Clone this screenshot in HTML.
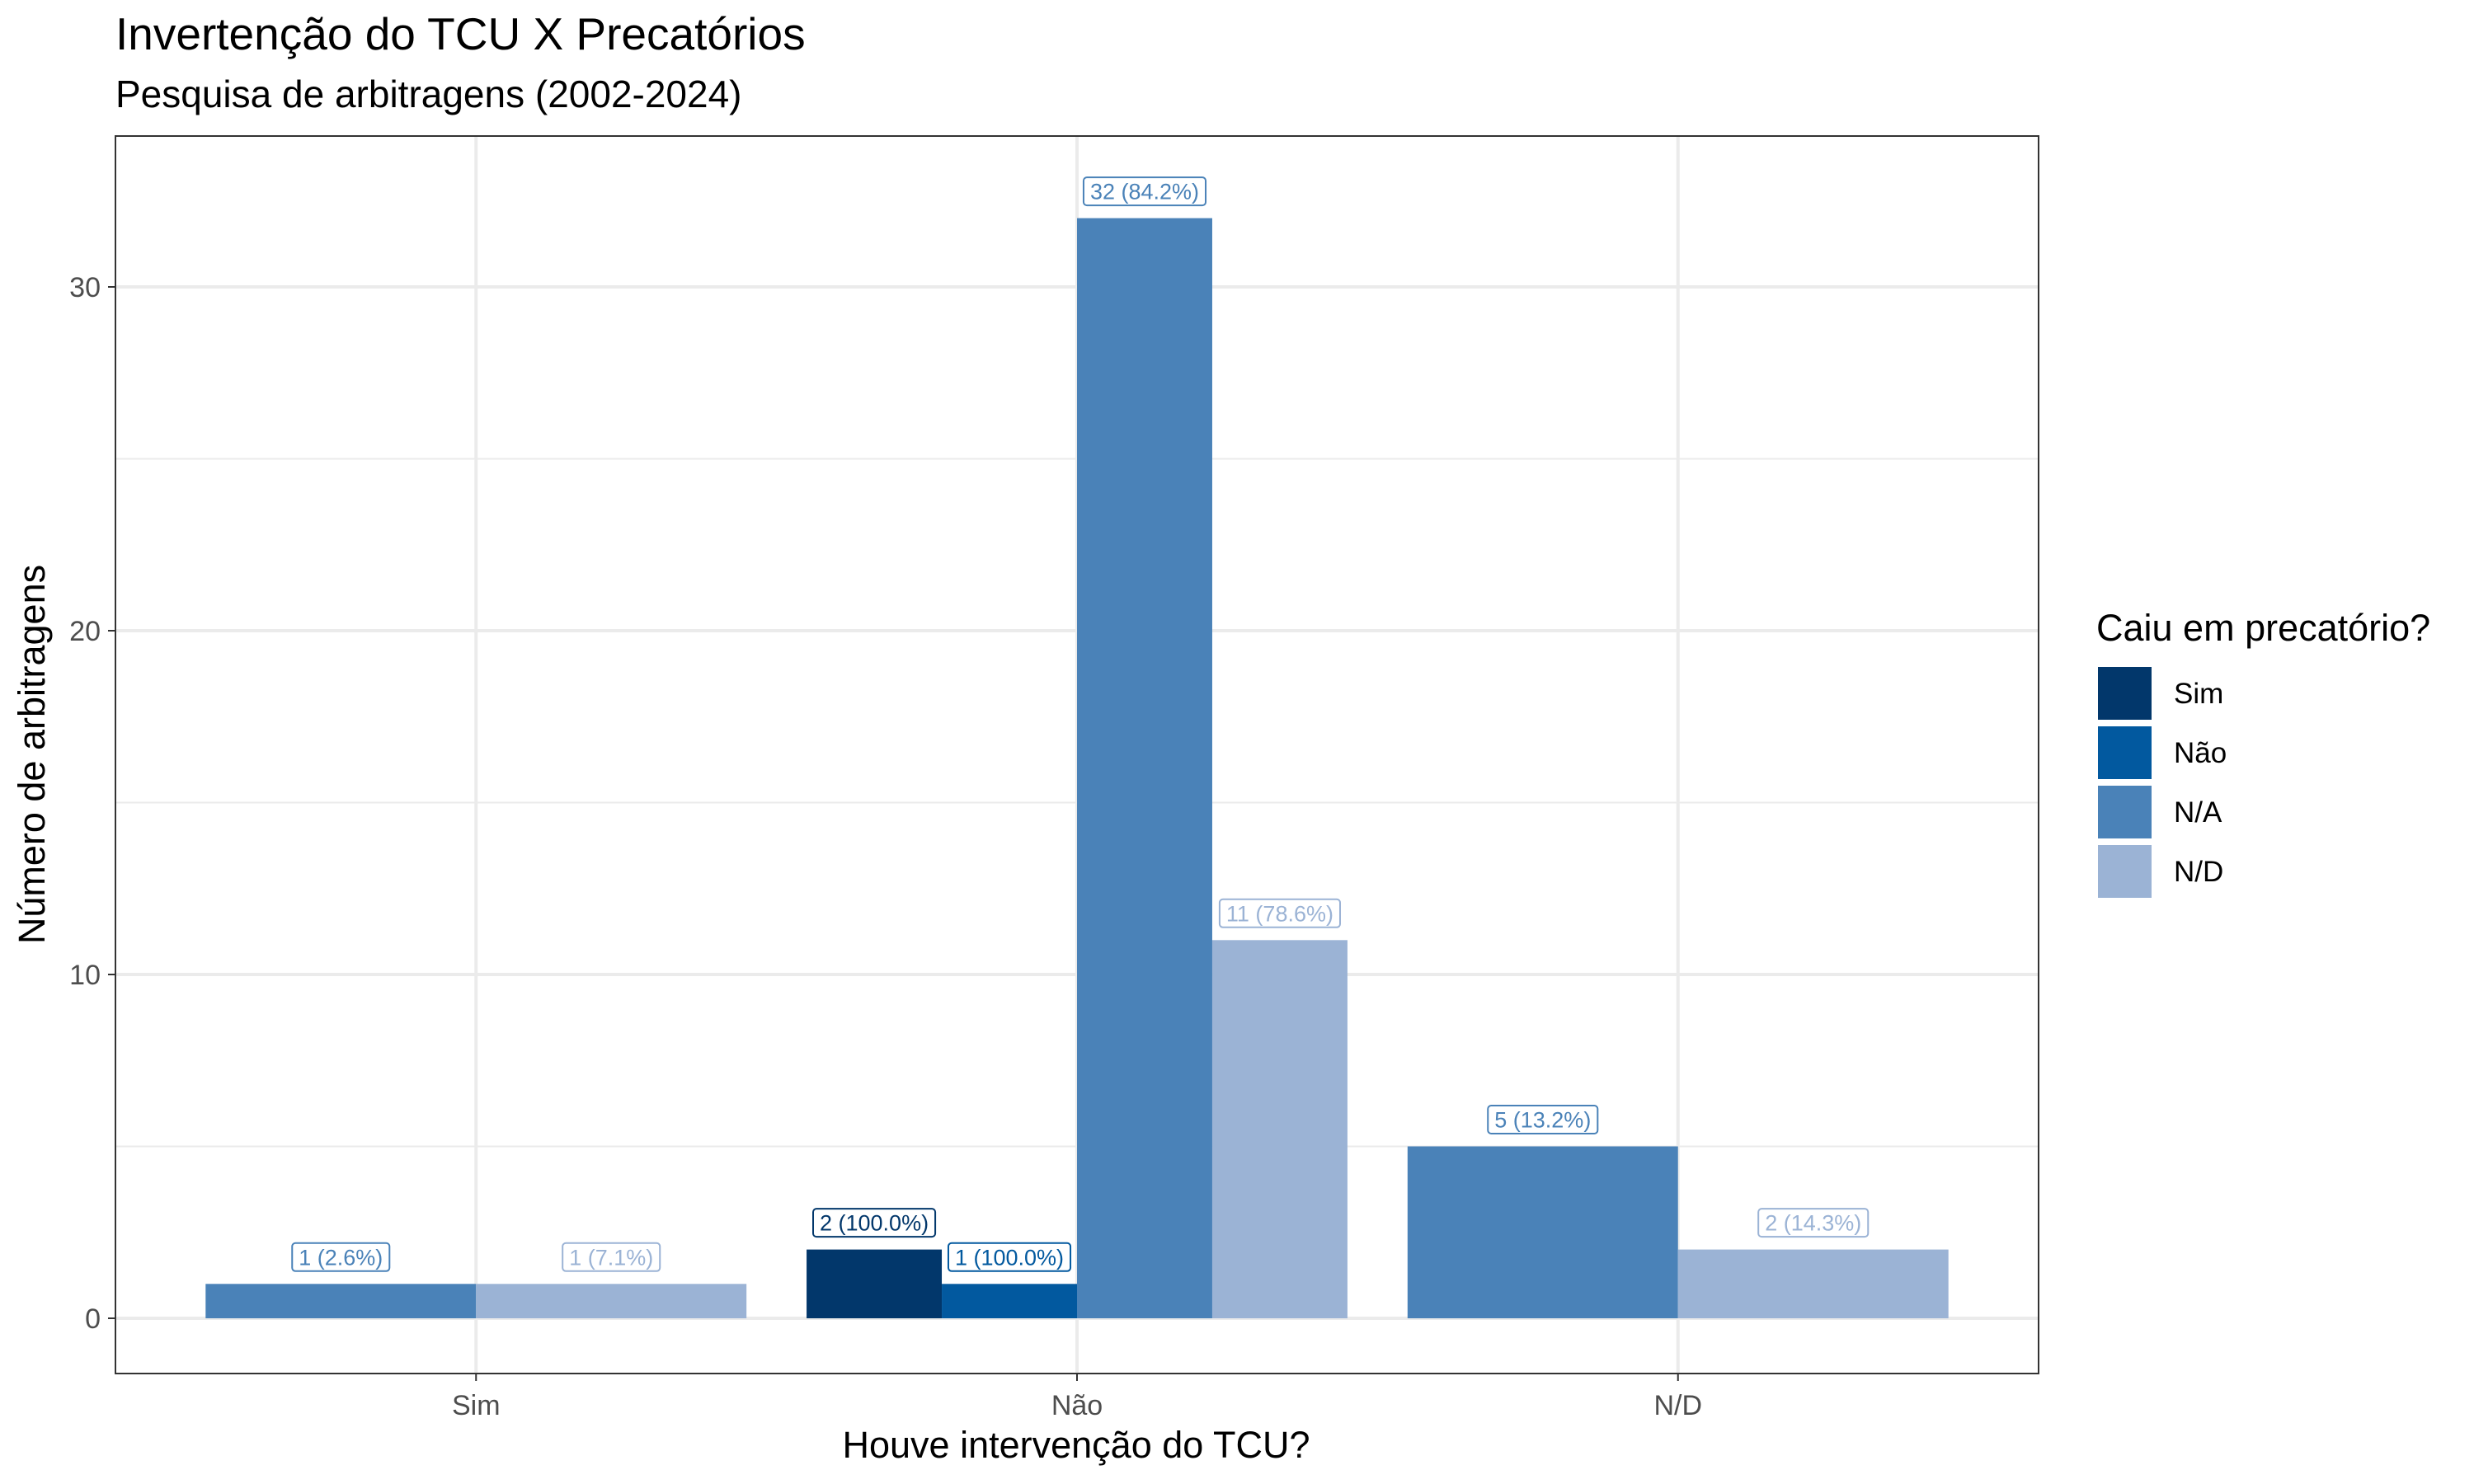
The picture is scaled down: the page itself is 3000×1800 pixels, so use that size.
<!DOCTYPE html>
<html><head><meta charset="utf-8"><style>
html,body{margin:0;padding:0;background:#fff;}
svg{display:block;font-family:"Liberation Sans",Arial,sans-serif;}
</style></head><body>
<svg id="chart" width="3000" height="1800" viewBox="0 0 3000 1800">
<rect width="3000" height="1800" fill="#fff"/>
<text x="140" y="60" font-size="55" fill="#000">Invertenção do TCU X Precatórios</text>
<text x="140" y="130" font-size="46" fill="#000">Pesquisa de arbitragens (2002-2024)</text>
<g id="grid"></g>
<g id="bars"></g>
<g id="labels"></g>
<rect x="140" y="165" width="2332" height="1501" fill="none" stroke="#333" stroke-width="2"/>
<g id="axes"></g>
<text x="1305" y="1768" font-size="45" text-anchor="middle" fill="#000">Houve intervenção do TCU?</text>
<text transform="translate(54,915) rotate(-90)" font-size="45" text-anchor="middle" fill="#000">Número de arbitragens</text>
<g id="legend"></g>
</svg>
<script>
const categories = ["Sim", "Não", "N/D"];
const groups = ["Sim", "Não", "N/A", "N/D"];
const colors = ["#02376B", "#02599F", "#4A82B8", "#9BB3D5"];
// bars per category: [groupIndex, value, label]
const barsSim = [[2, 1, "1 (2.6%)"], [3, 1, "1 (7.1%)"]];
const barsNao = [[0, 2, "2 (100.0%)"], [1, 1, "1 (100.0%)"], [2, 32, "32 (84.2%)"], [3, 11, "11 (78.6%)"]];
const barsND = [[2, 5, "5 (13.2%)"], [3, 2, "2 (14.3%)"]];
const yTicks = [0, 10, 20, 30];

const NS = "http://www.w3.org/2000/svg";
const PL = 140, PR = 2472, PT = 165, PB = 1666;
const Y0 = 1599, UNIT = 41.7;
function y(v){ return Y0 - v * UNIT; }
const XU = (PR - PL) / 3.2;
function x(i){ return PL + (i + 0.6) * XU; }
function mk(tag, attrs, parent){ const e = document.createElementNS(NS, tag); for (const k in attrs) e.setAttribute(k, attrs[k]); parent.appendChild(e); return e; }

const grid = document.getElementById('grid');
for (let v = 5; v < 34; v += 10) {
  const l = mk('line', {x1: PL, x2: PR, y1: y(v), y2: y(v), stroke: '#ebebeb', 'stroke-width': 2}, grid);
  
  
}
yTicks.forEach(v => {
  const l = mk('line', {x1: PL, x2: PR, y1: y(v), y2: y(v), stroke: '#ebebeb', 'stroke-width': 4}, grid);
  
  
});
categories.forEach((c, i) => {
  const l = mk('line', {x1: x(i), x2: x(i), y1: PT, y2: PB, stroke: '#ebebeb', 'stroke-width': 4}, grid);
  
  
});

const barsG = document.getElementById('bars'), labG = document.getElementById('labels');
[barsSim, barsNao, barsND].forEach((set, ci) => {
  const n = set.length, w = 0.9 * XU / n, start = x(ci) - 0.45 * XU;
  set.forEach((b, j) => {
    const [gi, v, txt] = b;
    const bx = start + j * w;
    const r = mk('rect', {x: bx, y: y(v), width: w, height: y(0) - y(v), fill: colors[gi]}, barsG);
    
    
    const cx = bx + w / 2, cy = y(v) - 32.5;
    const g = mk('g', {}, labG);
    
    
    const t = mk('text', {x: cx, y: cy + 9.5, 'font-size': 27, 'text-anchor': 'middle', fill: colors[gi]}, g);
    t.textContent = txt;
    const tw = t.getComputedTextLength();
    const box = mk('rect', {x: cx - tw / 2 - 8, y: cy - 17, width: tw + 16, height: 34, rx: 4, fill: '#fff', stroke: colors[gi], 'stroke-width': 2}, g);
    g.insertBefore(box, t);
  });
});

const axes = document.getElementById('axes');
yTicks.forEach(v => {
  mk('line', {x1: PL - 9, x2: PL, y1: y(v), y2: y(v), stroke: '#333', 'stroke-width': 2}, axes);
  const t = mk('text', {x: PL - 18, y: y(v) + 12, 'font-size': 34, 'text-anchor': 'end', fill: '#4d4d4d'}, axes);
  
  
  t.textContent = v;
});
categories.forEach((c, i) => {
  mk('line', {x1: x(i), x2: x(i), y1: PB, y2: PB + 9, stroke: '#333', 'stroke-width': 2}, axes);
  const t = mk('text', {x: x(i), y: 1716, 'font-size': 34, 'text-anchor': 'middle', fill: '#4d4d4d'}, axes);
  
  
  t.textContent = c;
});

const leg = document.getElementById('legend');
const lt = mk('text', {x: 2542, y: 777, 'font-size': 45, fill: '#000'}, leg);


lt.textContent = 'Caiu em precatório?';
groups.forEach((gname, i) => {
  const top = 809 + i * 72;
  const g = mk('g', {}, leg);
  
  
  mk('rect', {x: 2544, y: top, width: 65, height: 64, fill: colors[i]}, g);
  const t = mk('text', {x: 2636, y: top + 44, 'font-size': 35, fill: '#000'}, g);
  t.textContent = gname;
});
</script>
</body></html>
